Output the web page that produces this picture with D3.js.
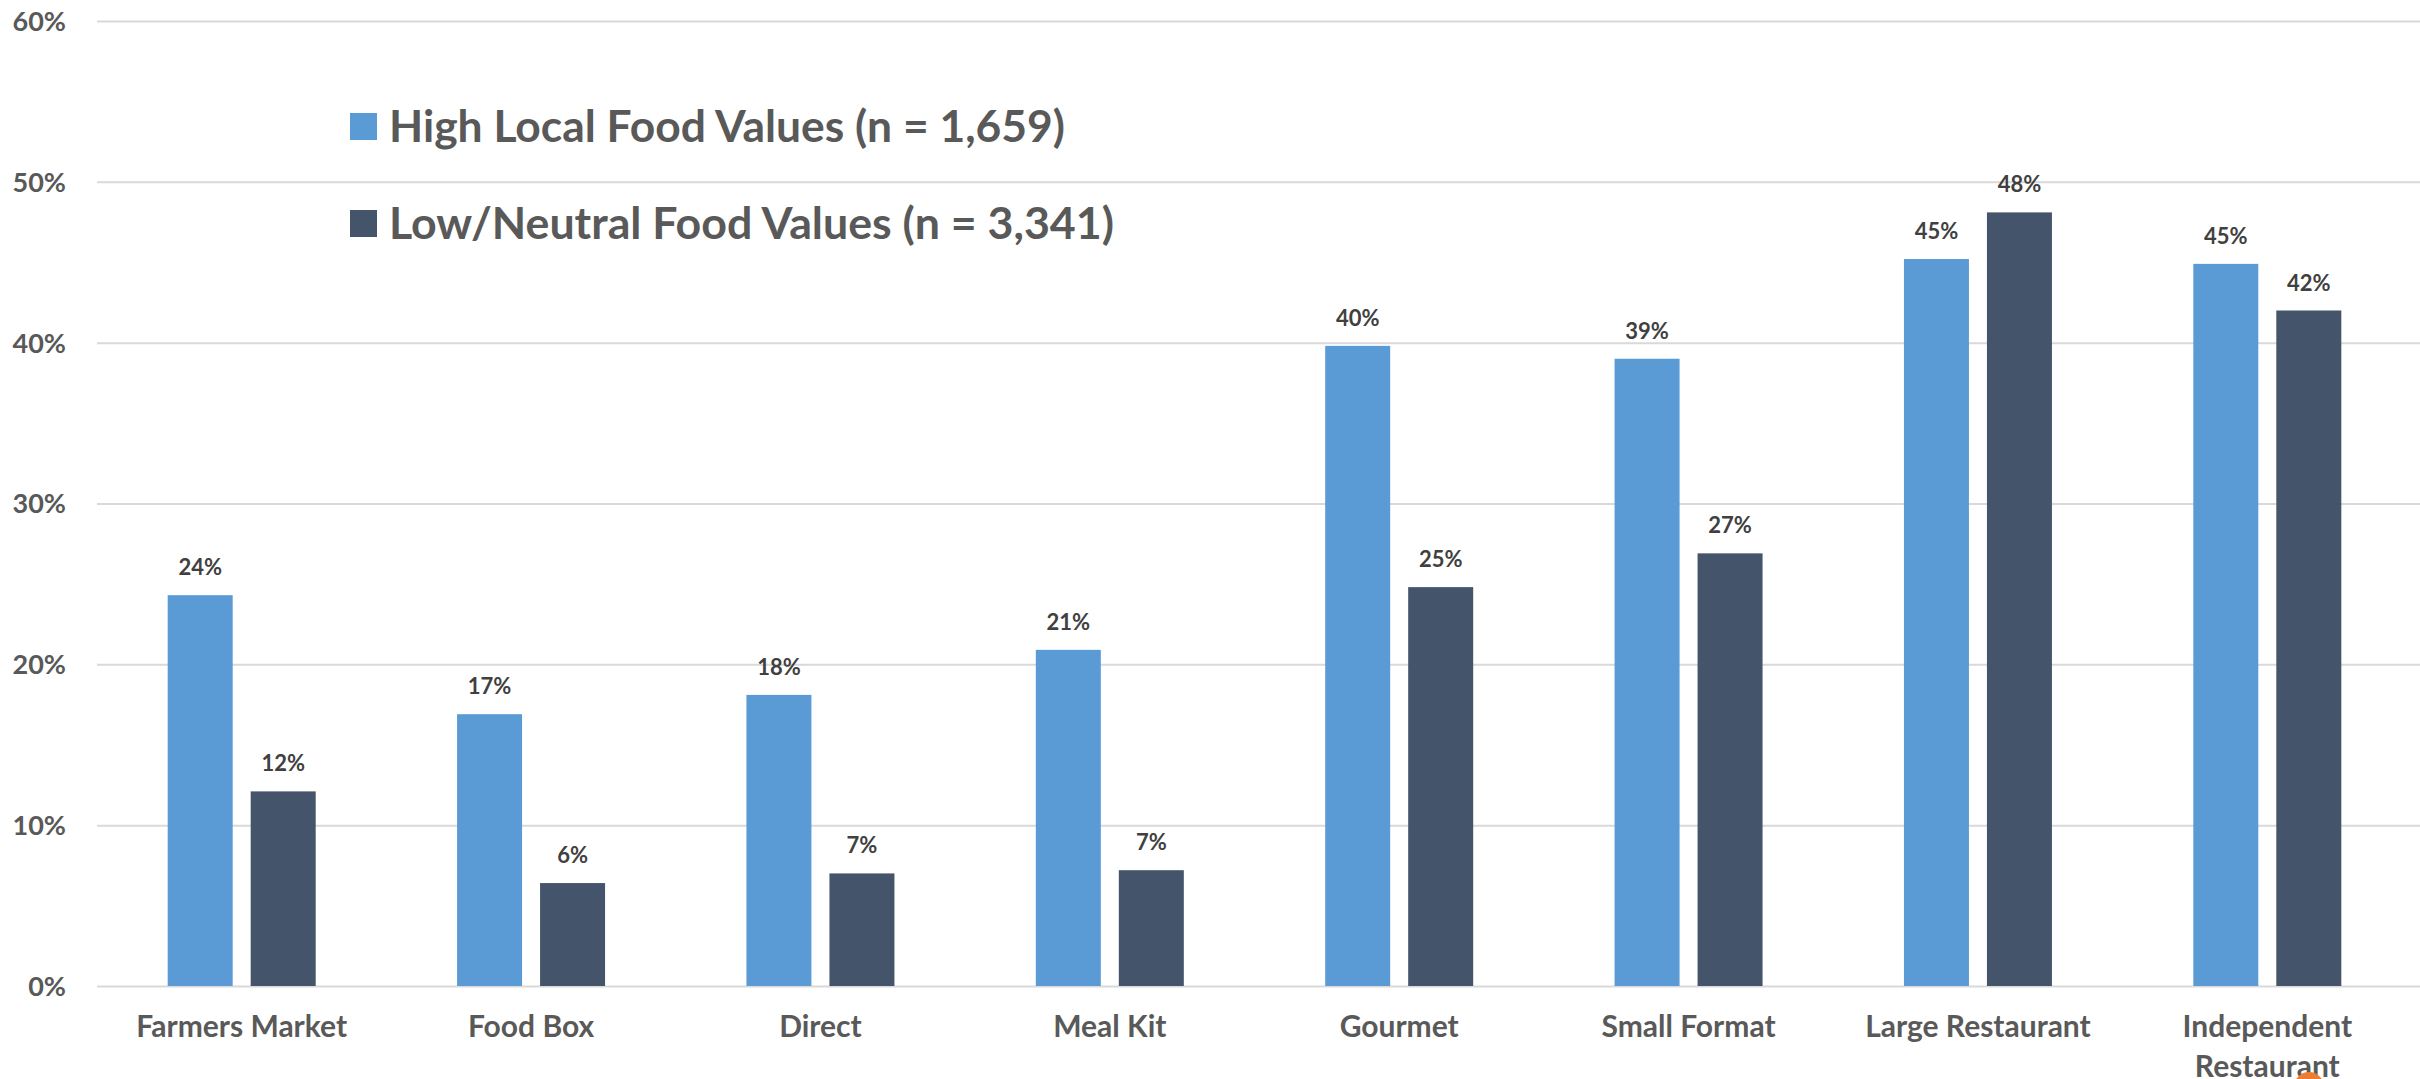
<!DOCTYPE html>
<html>
<head>
<meta charset="utf-8">
<script src="https://cdn.jsdelivr.net/npm/d3@7"></script>
<style>
  html, body { margin: 0; padding: 0; background: #fff; overflow: hidden; }
  svg { display: block; font-family: Lato, "Open Sans", sans-serif; }
</style>
</head>
<body>
<svg id="chart" width="2420" height="1079"></svg>
<script>
const categories = ["Farmers Market", "Food Box", "Direct", "Meal Kit", "Gourmet", "Small Format", "Large Restaurant", "Independent Restaurant"];
const categoryLines = [["Farmers Market"], ["Food Box"], ["Direct"], ["Meal Kit"], ["Gourmet"], ["Small Format"], ["Large Restaurant"], ["Independent", "Restaurant"]];
const seriesNames = ["High Local Food Values (n = 1,659)", "Low/Neutral Food Values (n = 3,341)"];
const highValues = [0.243, 0.169, 0.181, 0.209, 0.398, 0.390, 0.452, 0.449];
const lowValues  = [0.121, 0.064, 0.070, 0.072, 0.248, 0.269, 0.481, 0.420];
const yTicks = [0, 0.1, 0.2, 0.3, 0.4, 0.5, 0.6];
const colors = ["#5B9BD5", "#44546A"];

const svg = d3.select("#chart");
const plotLeft = 97, plotRight = 2412, plotTop = 21, plotBottom = 986;

const y = d3.scaleLinear().domain([0, 0.6]).range([plotBottom, plotTop]);
const x0 = d3.scaleBand().domain(categories).range([plotLeft, plotRight]).paddingInner(0).paddingOuter(0);
const groupW = 148;
const x1 = d3.scaleBand().domain([0, 1]).range([0, groupW]).paddingInner(0.2169).paddingOuter(0);

// gridlines
const yAxis = d3.axisLeft(y).tickValues(yTicks).tickSize(-(2420 - plotLeft)).tickFormat(d3.format(".0%"));
const gAxis = svg.append("g").attr("transform", `translate(${plotLeft},0)`).call(yAxis);
gAxis.select(".domain").remove();
gAxis.selectAll(".tick line").attr("stroke", "#d9d9d9").attr("stroke-width", 2);
gAxis.selectAll(".tick text")
  .attr("x", -31)
  .attr("dy", "0.35em")
  .attr("fill", "#595959")
  .style("font-size", "27px")
  .style("font-weight", "bold")
  .style("font-family", "Lato, sans-serif");

// bars
const data = categories.map((c, i) => ({ cat: c, vals: [highValues[i], lowValues[i]] }));
const groups = svg.append("g").selectAll("g").data(data).join("g")
  .attr("transform", d => `translate(${x0(d.cat) + x0.bandwidth() / 2 - groupW / 2},0)`);

groups.selectAll("rect").data(d => d.vals.map((v, k) => ({ v, k }))).join("rect")
  .attr("x", d => x1(d.k))
  .attr("width", x1.bandwidth())
  .attr("y", d => y(d.v))
  .attr("height", d => y(0) - y(d.v))
  .attr("fill", d => colors[d.k]);

groups.selectAll("text.lbl").data(d => d.vals.map((v, k) => ({ v, k }))).join("text")
  .attr("class", "lbl")
  .attr("x", d => x1(d.k) + x1.bandwidth() / 2)
  .attr("y", d => y(d.v) - 20)
  .attr("text-anchor", "middle")
  .attr("fill", "#404040")
  .style("font-size", "22px")
  .style("font-weight", "bold")
  .text(d => d3.format(".0%")(d.v));

// x labels
const xl = svg.append("g").selectAll("text").data(categories).join("text")
  .attr("x", d => x0(d) + x0.bandwidth() / 2)
  .attr("y", 1037)
  .attr("text-anchor", "middle")
  .attr("fill", "#595959")
  .style("font-size", "30px")
  .style("font-weight", "bold");
xl.each(function(d, i) {
  const t = d3.select(this);
  categoryLines[i].forEach((line, j) => {
    t.append("tspan").attr("x", x0(d) + x0.bandwidth() / 2).attr("dy", j === 0 ? 0 : 40).text(line);
  });
});

// legend
const legendY = [113, 210];
const legendLen = [676, 725];
const leg = svg.append("g").selectAll("g").data(seriesNames).join("g");
leg.append("rect")
  .attr("x", 350).attr("y", (d, i) => legendY[i])
  .attr("width", 27).attr("height", 27)
  .attr("fill", (d, i) => colors[i]);
leg.append("text")
  .attr("x", 389).attr("y", (d, i) => legendY[i] + 29)
  .attr("fill", "#595959")
  .style("font-size", "43px")
  .style("font-weight", "bold")
  .attr("textLength", (d, i) => legendLen[i])
  .attr("lengthAdjust", "spacingAndGlyphs")
  .text(d => d);

// orange marker partially visible at bottom
svg.append("circle").attr("cx", 2309).attr("cy", 1087).attr("r", 15).attr("fill", "#ED7D31");
</script>
</body>
</html>
